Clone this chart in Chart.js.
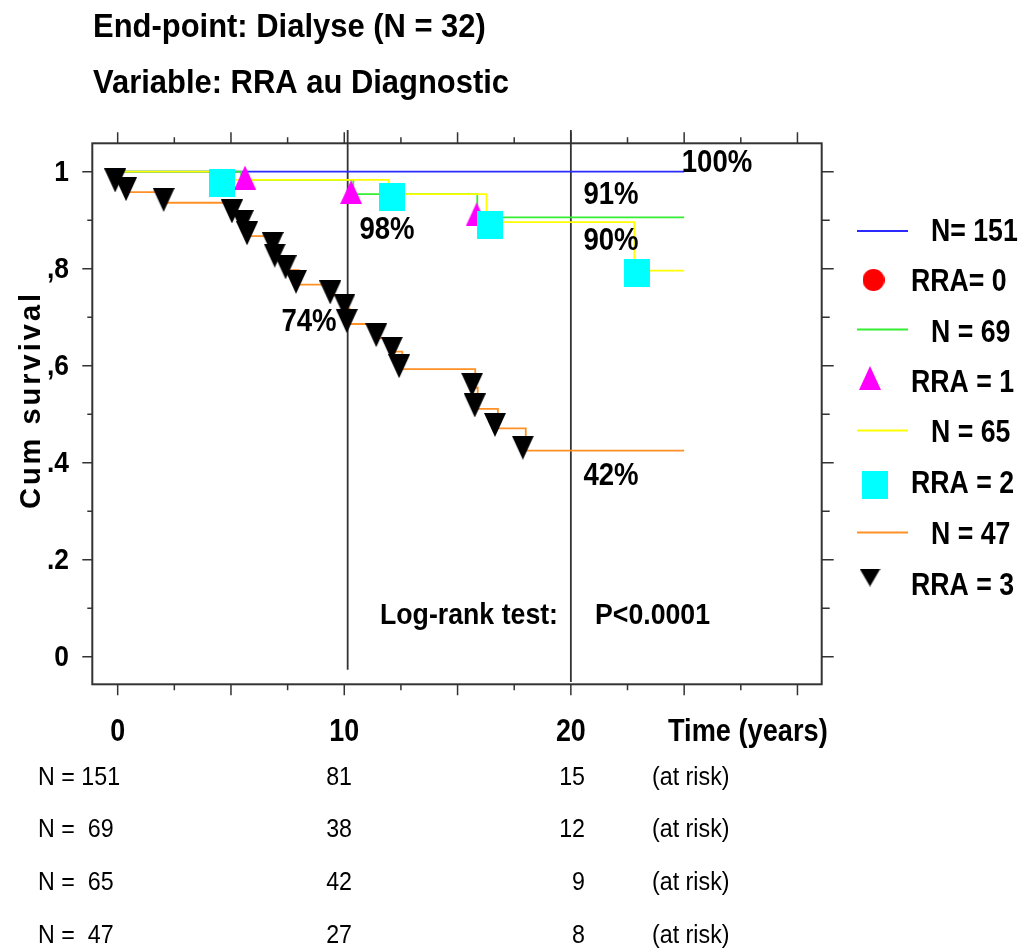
<!DOCTYPE html>
<html>
<head>
<meta charset="utf-8">
<script src="https://cdn.jsdelivr.net/npm/chart.js@4/dist/chart.umd.min.js"></script>
<style>
  html, body { margin: 0; padding: 0; background: #fff; }
  #wrap { width: 1022px; height: 952px; }
</style>
</head>
<body>
<div id="wrap"><canvas id="km" width="1022" height="952"></canvas></div>
<script>
// Kaplan-Meier steps (time in years, cumulative survival after the step)
const rra0Times = [0, 25];
const rra0Surv  = [1, 1];
const rra1Times = [0, 5.45, 10.4, 15.87, 25];
const rra1Surv  = [1, 0.983, 0.954, 0.906, 0.906];
const rra2Times = [0, 4.7, 11.96, 16.28, 22.8, 25];
const rra2Surv  = [1, 0.983, 0.954, 0.896, 0.796, 0.796];
const rra3Times = [0, 0.05, 0.5, 2.17, 5.18, 5.65, 5.85, 6.97, 7.06, 7.54, 8.0, 9.51, 10.14, 10.24, 11.54, 12.24, 12.56, 15.78, 15.89, 16.78, 18.01, 25];
const rra3Surv  = [1, 0.976, 0.958, 0.936, 0.912, 0.890, 0.867, 0.844, 0.820, 0.797, 0.767, 0.745, 0.717, 0.686, 0.657, 0.629, 0.593, 0.555, 0.511, 0.471, 0.425, 0.425];

// event markers as drawn on the plot
const rra1MarkT = [5.62, 10.30, 15.84];
const rra1MarkS = [0.988, 0.958, 0.912];
const rra2MarkT = [4.59, 12.09, 16.43, 22.92];
const rra2MarkS = [0.976, 0.948, 0.890, 0.791];
const rra3MarkT = [-0.11, 0.37, 2.03, 5.04, 5.52, 5.71, 6.84, 6.93, 7.41, 7.87, 9.38, 10.01, 10.11, 11.41, 12.10, 12.42, 15.64, 15.76, 16.65, 17.88];
const rra3MarkS = [0.982, 0.964, 0.942, 0.918, 0.896, 0.873, 0.851, 0.827, 0.803, 0.773, 0.751, 0.724, 0.692, 0.663, 0.635, 0.599, 0.561, 0.518, 0.478, 0.431];

// vertical reference lines (10 and 20 years)
const refT      = [10.15, 20];
const refTop    = [1.086, 1.086];
const refBottom = [-0.027, -0.052];

// axis ticks and labels
const xMajor = [0, 5, 10, 15, 20, 25, 30];
const xMinor = [2.5, 7.5, 12.5, 17.5, 22.5, 27.5];
const xLabelVals = [0, 10, 20];
const xLabels = ['0', '10', '20'];
const yMajor = [0, 0.2, 0.4, 0.6, 0.8, 1];
const yMinor = [0.1, 0.3, 0.5, 0.7, 0.9];
const yLabels = ['0', '.2', '.4', ',6', ',8', '1'];

// end-of-curve percentages
const pctLabels = ['100%', '91%', '98%', '90%', '74%', '42%'];

// legend + at-risk table
const legendLabels = ['N= 151', 'RRA= 0', 'N = 69', 'RRA = 1', 'N = 65', 'RRA = 2', 'N = 47', 'RRA = 3'];
const atRiskGroups = ['N = 151', 'N =  69', 'N =  65', 'N =  47'];
const atRisk10 = [81, 38, 42, 27];
const atRisk20 = [15, 12, 9, 8];

const BLUE = '#2b2bff', GREEN = '#33ee33', YELLOW = '#ffff00', ORANGE = '#ff9026';

function markImg(kind, w, h, color) {
  const c = document.createElement('canvas');
  c.width = w; c.height = h;
  const g = c.getContext('2d');
  g.fillStyle = color;
  g.beginPath();
  if (kind === 'up') { g.moveTo(w / 2, 0); g.lineTo(w, h); g.lineTo(0, h); }
  else if (kind === 'down') { g.moveTo(0, 0); g.lineTo(w, 0); g.lineTo(w / 2, h); }
  else if (kind === 'square') { g.rect(0, 0, w, h); }
  else { g.arc(w / 2, h / 2, w / 2, 0, Math.PI * 2); }
  g.closePath();
  g.fill();
  return c;
}
const imgUp = markImg('up', 22, 24, '#ff00ff');
const imgSq = markImg('square', 26, 28, '#00ffff');
const imgDown = markImg('down', 22, 24, '#000');
const imgCircle = markImg('circle', 22, 22, '#ff0000');
const imgDownSmall = markImg('down', 21, 18, '#000');

const pts = (xs, ys) => xs.map((x, i) => ({ x: x, y: ys[i] }));

// stepped: true -> horizontal first, then drop at the next time
function curve(xs, ys, color, order) {
  return { data: pts(xs, ys), showLine: true, stepped: true, borderColor: color,
           borderWidth: 1.8, pointRadius: 0, order: order };
}
function marks(xs, ys, img, order) {
  return { data: pts(xs, ys), showLine: false, pointStyle: img, pointRadius: 6, order: order };
}

const datasets = [
  marks(rra3MarkT, rra3MarkS, imgDown, 0),
  marks(rra2MarkT, rra2MarkS, imgSq, 1),
  marks(rra1MarkT, rra1MarkS, imgUp, 2),
  curve(rra3Times, rra3Surv, ORANGE, 3),
  curve(rra2Times, rra2Surv, YELLOW, 4),
  curve(rra1Times, rra1Surv, GREEN, 5),
  curve(rra0Times, rra0Surv, BLUE, 6)
];
refT.forEach((t, i) => {
  datasets.push({ data: [{ x: t, y: refTop[i] }, { x: t, y: refBottom[i] }], showLine: true,
                  borderColor: '#333', borderWidth: 1.8, pointRadius: 0, clip: false, order: 7 });
});

function txt(ctx, s, x, y, size, opt) {
  opt = opt || {};
  ctx.save();
  ctx.font = (opt.normal ? '' : 'bold ') + size + 'px "Liberation Sans", Arial, sans-serif';
  ctx.fillStyle = '#000';
  ctx.textBaseline = 'middle';
  ctx.textAlign = opt.align || 'left';
  if (opt.spacing) ctx.letterSpacing = opt.spacing;
  ctx.translate(x, y);
  if (opt.rotate) ctx.rotate(opt.rotate);
  ctx.scale(opt.sx || 0.88, 1);
  ctx.fillText(s, 0, 0);
  ctx.restore();
}

const decor = {
  id: 'decor',
  beforeDatasetsDraw(chart) {
    const ctx = chart.ctx, a = chart.chartArea;
    const xs = chart.scales.x, ys = chart.scales.y;
    ctx.save();
    ctx.strokeStyle = '#333';
    ctx.lineWidth = 2;
    ctx.strokeRect(a.left, a.top, a.right - a.left, a.bottom - a.top);
    ctx.lineWidth = 1.5;
    ctx.beginPath();
    xMajor.concat(xMinor).forEach(v => {
      const px = xs.getPixelForValue(v);
      const len = xMajor.includes(v) ? 11 : 6;
      ctx.moveTo(px, a.top); ctx.lineTo(px, a.top - len);
      ctx.moveTo(px, a.bottom); ctx.lineTo(px, a.bottom + len);
    });
    yMajor.concat(yMinor).forEach(v => {
      const py = ys.getPixelForValue(v);
      const maj = yMajor.includes(v);
      ctx.moveTo(a.left, py); ctx.lineTo(a.left - (maj ? 10 : 5), py);
      ctx.moveTo(a.right, py); ctx.lineTo(a.right + (maj ? 12 : 8), py);
    });
    ctx.stroke();
    ctx.restore();
  },
  afterDraw(chart) {
    const ctx = chart.ctx;
    const xs = chart.scales.x, ys = chart.scales.y;

    txt(ctx, 'End-point: Dialyse (N = 32)', 93, 28, 34, { sx: 0.91 });
    txt(ctx, 'Variable: RRA au Diagnostic', 93, 84, 34, { sx: 0.91 });

    yMajor.forEach((v, i) => txt(ctx, yLabels[i], 69, ys.getPixelForValue(v) + 1, 30, { align: 'right' }));
    xLabelVals.forEach((v, i) => txt(ctx, xLabels[i], xs.getPixelForValue(v), 732, 32, { align: 'center', sx: 0.84 }));
    txt(ctx, 'Time (years)', 668, 732, 32, { sx: 0.85 });
    txt(ctx, 'Cum survival', 32, 400, 29, { align: 'center', rotate: -Math.PI / 2, sx: 1, spacing: '3px' });

    const pctPos = [[717, 163], [611, 195], [387, 230], [611, 241], [309, 322], [611, 476]];
    pctLabels.forEach((s, i) => txt(ctx, s, pctPos[i][0], pctPos[i][1], 31, { align: 'center', sx: 0.89 }));
    txt(ctx, 'Log-rank test:', 380, 616, 30, { sx: 0.89 });
    txt(ctx, 'P<0.0001', 595, 616, 30, { sx: 0.89 });

    // legend
    const lineColors = [BLUE, GREEN, YELLOW, ORANGE];
    const legImgs = [imgCircle, imgUp, imgSq, imgDownSmall];
    const legImgX = [873.5, 870, 875, 870];
    const legImgY = [280, 378, 484.5, 577.5];
    const legTextY = [232, 282, 333, 383, 433, 484, 535, 586];
    for (let k = 0; k < 4; k++) {
      const ly = [231, 329.5, 430.5, 532.5][k];
      ctx.save();
      ctx.strokeStyle = lineColors[k];
      ctx.lineWidth = 1.8;
      ctx.beginPath(); ctx.moveTo(857, ly); ctx.lineTo(908, ly); ctx.stroke();
      ctx.restore();
      const im = legImgs[k];
      ctx.drawImage(im, legImgX[k] - im.width / 2, legImgY[k] - im.height / 2);
    }
    legendLabels.forEach((s, i) => txt(ctx, s, i % 2 === 0 ? 931 : 911, legTextY[i], 31, { sx: 0.86 }));

    // numbers at risk
    const rowY = [778, 830, 883, 936];
    atRiskGroups.forEach((g, i) => {
      txt(ctx, g, 38, rowY[i], 25, { normal: true, sx: 0.93 });
      txt(ctx, String(atRisk10[i]), 352, rowY[i], 25, { normal: true, sx: 0.93, align: 'right' });
      txt(ctx, String(atRisk20[i]), 585, rowY[i], 25, { normal: true, sx: 0.93, align: 'right' });
      txt(ctx, '(at risk)', 652, rowY[i], 25, { normal: true, sx: 0.93 });
    });
  }
};

new Chart(document.getElementById('km'), {
  type: 'scatter',
  data: { datasets: datasets },
  options: {
    responsive: false,
    animation: false,
    devicePixelRatio: 1,
    layout: { padding: { left: 92.3, top: 143.3, right: 200.3, bottom: 267.7 } },
    scales: {
      x: { type: 'linear', min: -1.12, max: 31.07, display: false },
      y: { type: 'linear', min: -0.0569, max: 1.0586, display: false }
    },
    plugins: { legend: { display: false }, tooltip: { enabled: false } }
  },
  plugins: [decor]
});
</script>
</body>
</html>
